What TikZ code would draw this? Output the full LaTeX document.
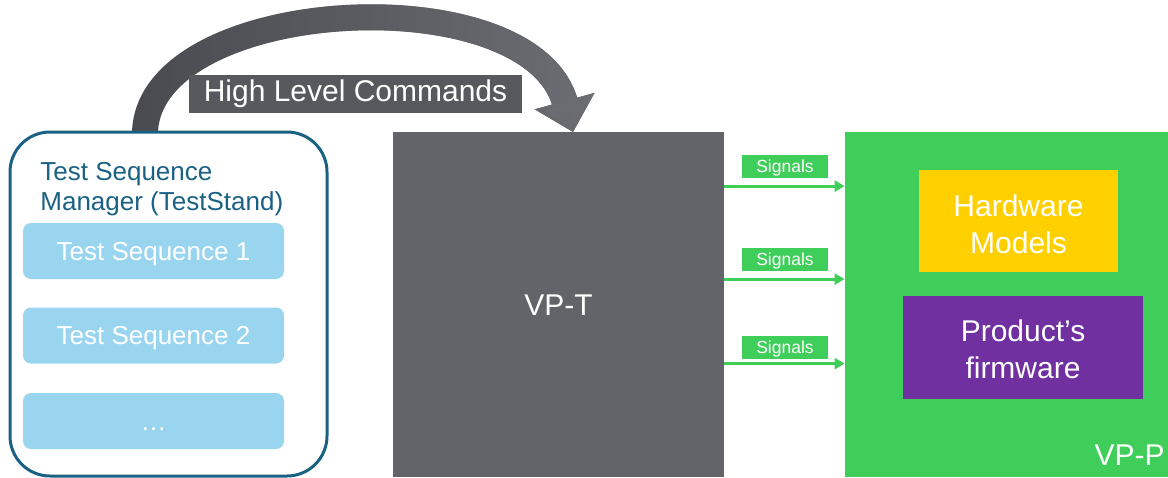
\documentclass[tikz,border=0pt]{standalone}
\usepackage{fontspec}
\setmainfont{Liberation Sans}
\usetikzlibrary{arrows.meta,calc,fadings}
\definecolor{tsmblue}{HTML}{1B6184}
\definecolor{seqblue}{HTML}{9AD5F0}
\definecolor{vptgray}{HTML}{636469}
\definecolor{hlcgray}{HTML}{58595E}
\definecolor{arrdark}{HTML}{4A4B50}
\definecolor{arrlight}{HTML}{6C6D72}
\definecolor{vpgreen}{HTML}{3FCE5A}
\definecolor{hwyellow}{HTML}{FFD000}
\definecolor{fwpurple}{HTML}{7030A0}
\tikzset{
  tsmbox/.style={draw=tsmblue, line width=1.5pt, rounded corners=20pt, fill=white, inner sep=0pt},
  seqbox/.style={fill=seqblue, rounded corners=4pt, minimum width=130.5pt, minimum height=28pt, inner sep=0pt, text=white, text height=9.3pt, text depth=0pt, font=\fontsize{13}{16}\selectfont},
  bigblock/.style={minimum height=172.5pt, inner sep=0pt, text=white, font=\fontsize{15}{18}\selectfont},
  innertext/.style={inner sep=0pt, text=white, align=center, font=\fontsize{15}{18.5}\selectfont},
  siglabel/.style={fill=vpgreen, minimum width=43pt, minimum height=11.5pt, inner sep=0pt, text=white, text height=6.3pt, text depth=0pt, font=\fontsize{8.75}{10}\selectfont},
  sigarrow/.style={draw=vpgreen, line width=1.5pt, -{Triangle[length=5pt, width=5.5pt]}},
  hlcarrow/.style={line width=13pt, -{Triangle[length=16pt, width=30pt]}},
  hlclabel/.style={fill=hlcgray, minimum width=166.5pt, minimum height=19pt, inner sep=0pt, text=white, font=\fontsize{15}{18}\selectfont}
}
\begin{document}
\begin{tikzpicture}[x=0.5pt, y=-0.5pt]
\useasboundingbox (0,0) rectangle (1168,477);

% main blocks
\node[bigblock, fill=vptgray, minimum width=165.5pt, text height=10.7pt, text depth=0pt] (vpt) at (558.5,304.5) {VP-T};
\node[bigblock, fill=vpgreen, minimum width=161.5pt] (vpp) at (1006.5,304.5) {};
\node[anchor=base east, inner sep=0pt, text=white, font=\fontsize{15}{18}\selectfont] (vpplabel) at (1165,465) {VP-P};
\node[fill=hwyellow, inner sep=0pt, minimum width=99.5pt, minimum height=51pt] (hw) at (1018.5,221) {};
\node[innertext] (hwtext) at ($(hw.center)+(0,3)$) {Hardware\\Models};
\node[fill=fwpurple, inner sep=0pt, minimum width=120pt, minimum height=51.5pt] (fw) at (1023,347.5) {};
\node[innertext] (fwtext) at ($(fw.center)+(0,2)$) {Product’s\\firmware};

% high level commands arrow
\coordinate (hs) at (145,132);
\coordinate (he) at (573,132);
\draw[hlcarrow, draw=arrdark] (hs) .. controls (150,-5) and (530,-25) .. (he);
\draw[hlcarrow, draw=arrlight, path fading=west] (hs) .. controls (150,-5) and (530,-25) .. (he);
\node[hlclabel] (hlc) at (355.5,94) {High Level Commands};

% test sequence manager
\node[tsmbox, minimum width=158.5pt, minimum height=172pt] (tsm) at (168.5,304) {};
\node[anchor=north west, align=left, inner sep=0pt, text=tsmblue, font=\fontsize{13}{15}\selectfont] (title) at (40,162) {Test Sequence\\Manager (TestStand)};
\node[seqbox] (seq1) at (153.5,251) {Test Sequence 1};
\node[seqbox] (seq2) at (153.5,335.5) {Test Sequence 2};
\node[seqbox] (seq3) at (153.5,421) {…};

% signals
\node[siglabel] (sl1) at (785,166.5) {Signals};
\node[siglabel] (sl2) at (785,259.5) {Signals};
\node[siglabel] (sl3) at (785,347.5) {Signals};
\coordinate (a1) at ($(vpt.north east)+(0,54.5)$);
\coordinate (a2) at ($(vpt.north east)+(0,147.5)$);
\coordinate (a3) at ($(vpt.north east)+(0,232)$);
\draw[sigarrow] (a1) -- (a1 -| vpp.west);
\draw[sigarrow] (a2) -- (a2 -| vpp.west);
\draw[sigarrow] (a3) -- (a3 -| vpp.west);
\end{tikzpicture}
\end{document}
